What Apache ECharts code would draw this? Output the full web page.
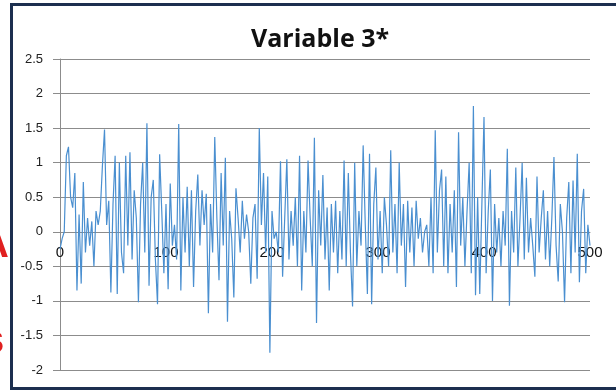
<!DOCTYPE html>
<html>
<head>
<meta charset="utf-8">
<script src="https://cdn.jsdelivr.net/npm/echarts@6/dist/echarts.min.js"></script>
<style>
  html, body { margin: 0; padding: 0; background: #fff; }
  #chart { width: 616px; height: 390px; }
</style>
</head>
<body>
<div id="chart"></div>
<script>
// values, one every 2 steps from 0 to 500
var xStep = 2;
var values = [
  -0.25, -0.1, 0.0, 1.1, 1.23, 0.5, 0.35, 0.85, -0.85, 0.25,
  -0.75, 0.72, -0.3, 0.2, -0.2, 0.15, -0.5, 0.3, 0.1, 0.3,
  0.95, 1.48, 0.1, 0.45, -0.88, 0.4, 1.1, -0.9, 1.0, -0.3,
  -0.6, 1.1, -0.2, 1.15, -0.4, 0.6, 0.2, -1.02, 0.4, 1.0,
  -0.3, 1.57, -0.78, 0.5, 0.75, -0.4, -1.05, 1.12, 0.3, -0.6,
  0.4, -0.83, 0.7, -0.2, 0.1, -0.4, 1.56, -0.85, 0.5, -0.3,
  0.65, -0.5, 0.6, -0.8, 0.3, 0.83, -0.2, 0.6, 0.1, 0.55,
  -1.18, 0.4, -0.3, 1.37, 0.2, -0.7, 0.85, -0.2, 1.07, -1.3,
  0.3, -0.1, -0.95, 0.63, 0.2, -0.3, 0.45, -0.1, 0.25, 0.0,
  -0.75, 0.2, 0.4, -0.68, 1.5, 0.1, 0.85, -0.3, 0.8, -1.75,
  0.3, -0.1, 0.0, -0.3, 1.02, -0.65, 0.2, 1.05, -0.4, 0.3,
  -0.2, 0.5, -0.5, 1.1, -0.85, 0.3, -0.3, 1.03, 0.2, -0.5,
  1.36, -1.32, 0.6, -0.2, 0.82, -0.4, 0.35, -0.85, 0.4, -0.3,
  0.45, -0.6, 0.3, -0.4, 1.03, -0.5, 0.85, -0.3, -1.08, 1.0,
  -0.5, 0.3, -0.2, 1.25, 0.1, -0.9, 1.13, -1.05, 0.4, 0.93,
  -0.4, 0.3, -0.6, 0.5, 0.1, -0.5, 1.18, -0.3, 0.4, -0.6,
  1.0, -0.2, 0.4, -0.8, 0.45, -0.3, 0.35, -0.5, 0.45, -0.1,
  0.2, -0.3, 0.0, 0.1, -0.5, 0.5, -0.6, 1.47, -0.3, 0.6,
  0.9, -0.5, 0.8, -0.6, 0.4, -0.3, 0.6, -0.8, 1.44, -0.2,
  0.5, -0.5, 0.3, 1.0, -0.6, 1.82, -0.92, 0.5, -0.9, 0.4,
  1.66, -0.6, 0.3, 0.9, -1.0, 0.4, -0.3, 0.2, -0.5, 0.3,
  -0.2, 1.2, -1.07, 0.3, -0.3, 0.93, -0.5, 0.2, 1.0, -0.4,
  0.78, -0.3, 0.2, -0.2, -0.65, 0.8, -0.3, 0.2, 0.6, -0.4,
  0.3, -0.5, 0.2, 1.08, -0.2, -0.72, 0.4, 0.0, -1.02, 0.2,
  0.72, -0.6, 0.74, -0.3, 1.13, -0.73, 0.3, 0.62, -0.6, 0.1,
  -0.2
];
var xTicks = [0, 100, 200, 300, 400, 500];
var yTicks = [-2, -1.5, -1, -0.5, 0, 0.5, 1, 1.5, 2, 2.5];

var points = values.map(function (v, i) { return [i * xStep, v]; });

// plot area; the x axis sits on the y = 0 line like in Excel
var gridTop = 59, gridBottom = 20, chartH = 390;
var yMin = yTicks[0], yMax = yTicks[yTicks.length - 1];
var plotH = chartH - gridTop - gridBottom;
var zeroOffset = -plotH * (0 - yMin) / (yMax - yMin);

var myChart = echarts.init(document.getElementById('chart'));
var option = {
  animation: false,
  backgroundColor: '#fff',
  title: {
    text: 'Variable 3*',
    left: 246,
    top: 22,
    textStyle: {
      fontFamily: 'Open Sans',
      fontSize: 25,
      fontWeight: 'bold',
      color: '#111'
    }
  },
  grid: { left: 60, right: 26, top: gridTop, bottom: gridBottom },
  xAxis: {
    type: 'value',
    position: 'bottom',
    offset: zeroOffset,
    min: xTicks[0],
    max: xTicks[xTicks.length - 1],
    interval: 100,
    axisLine: { onZero: false, lineStyle: { color: '#8c8c8c', width: 1 } },
    axisTick: { show: false },
    splitLine: { show: false },
    axisLabel: {
      showMinLabel: true,
      showMaxLabel: true,
      margin: 14,
      fontFamily: 'Liberation Sans',
      fontSize: 15,
      color: '#111'
    }
  },
  yAxis: {
    type: 'value',
    min: yMin,
    max: yMax,
    interval: 0.5,
    axisLine: { show: true, onZero: false, lineStyle: { color: '#8c8c8c', width: 1 } },
    axisTick: { show: true, length: 7, lineStyle: { color: '#8c8c8c' } },
    splitLine: { lineStyle: { color: '#8c8c8c', width: 1 } },
    axisLabel: {
      margin: 17,
      fontFamily: 'Liberation Sans',
      fontSize: 13,
      color: '#222'
    }
  },
  graphic: [
    {
      type: 'rect',
      shape: { x: 11.5, y: 4.5, width: 610, height: 384 },
      style: { fill: 'none', stroke: '#1c2f4f', lineWidth: 3 },
      silent: true
    },
    {
      type: 'text',
      left: -20, top: 226,
      style: { text: 'A', fill: '#e02020', font: 'bold 40px Liberation Sans' },
      silent: true
    },
    {
      type: 'text',
      left: -18, top: 322,
      style: { text: 's', fill: '#e02020', font: 'bold 40px Liberation Sans' },
      silent: true
    }
  ],
  series: [
    {
      type: 'line',
      data: points,
      showSymbol: false,
      lineStyle: { color: '#4a8fd0', width: 1.2 },
      z: 3
    }
  ]
};
myChart.setOption(option);
</script>
</body>
</html>
